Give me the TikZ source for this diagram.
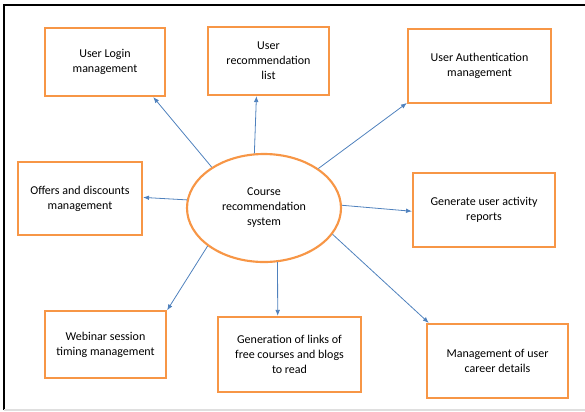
\documentclass[tikz,border=0pt]{standalone}
\usepackage{fontspec}
\setmainfont{Carlito}
\usetikzlibrary{shapes,arrows.meta}
\definecolor{boxorange}{RGB}{247,150,70}
\definecolor{linkblue}{RGB}{79,129,189}

\begin{document}
\begin{tikzpicture}[x=0.75pt, y=-0.75pt,
		task/.style={rectangle, draw=boxorange, line width=1.6pt, align=center, inner sep=0pt, font=\fontsize{9}{11.25}\selectfont},
		hub/.style={ellipse, draw=boxorange, line width=1.6pt, align=center, inner sep=0pt, font=\fontsize{9}{11.25}\selectfont},
		link/.style={->, draw=linkblue, line width=0.6pt},
		>={Latex[length=4.5pt,width=3.5pt]}]
		\useasboundingbox (0,0) rectangle (585,411);
		\draw [line width=1.5pt] (4,410) -- (4,5) -- (585,5);
		\draw [gray!25, line width=1pt] (4,410) -- (585,410);
		\path (264,208) node(sys) [hub, minimum width=115.5pt, minimum height=81pt] {Course\\recommendation\\system};
		\path (105,62) node(login) [task, minimum width=90pt, minimum height=51pt] {User Login\\management};
		\path (268.5,61) node(reclist) [task, minimum width=90.75pt, minimum height=51pt] {User\\recommendation\\list};
		\path (479.5,66) node(auth) [task, minimum width=107.25pt, minimum height=55.5pt] {User Authentication\\management};
		\path (80,198.5) node(offers) [task, minimum width=93pt, minimum height=54.75pt] {Offers and discounts\\management};
		\path (484,210) node(report) [task, minimum width=106.5pt, minimum height=55.5pt] {Generate user activity\\reports};
		\path (105.5,344.5) node(webinar) [task, minimum width=90.75pt, minimum height=50.25pt] {Webinar session\\timing management};
		\path (289.5,354.5) node(links) [task, minimum width=107.25pt, minimum height=56.25pt] {Generation of links of\\free courses and blogs\\to read};
		\path (497.5,361) node(career) [task, minimum width=105.75pt, minimum height=55.5pt] {Management of user\\career details};
		\draw [link] (sys.142) to (login.-36);
		\draw [link] (sys.100) to (reclist.251);
		\draw [link] (sys.36) to (auth.207);
		\draw [link] (sys.174) to (offers.1);
		\draw [link] (sys.2) to (report.181);
		\draw [link] (sys.214) to (webinar.29);
		\draw [link] (sys.284) to (links.107);
		\draw [link] (sys.339) to (career.151);
	\end{tikzpicture}
\end{document}
